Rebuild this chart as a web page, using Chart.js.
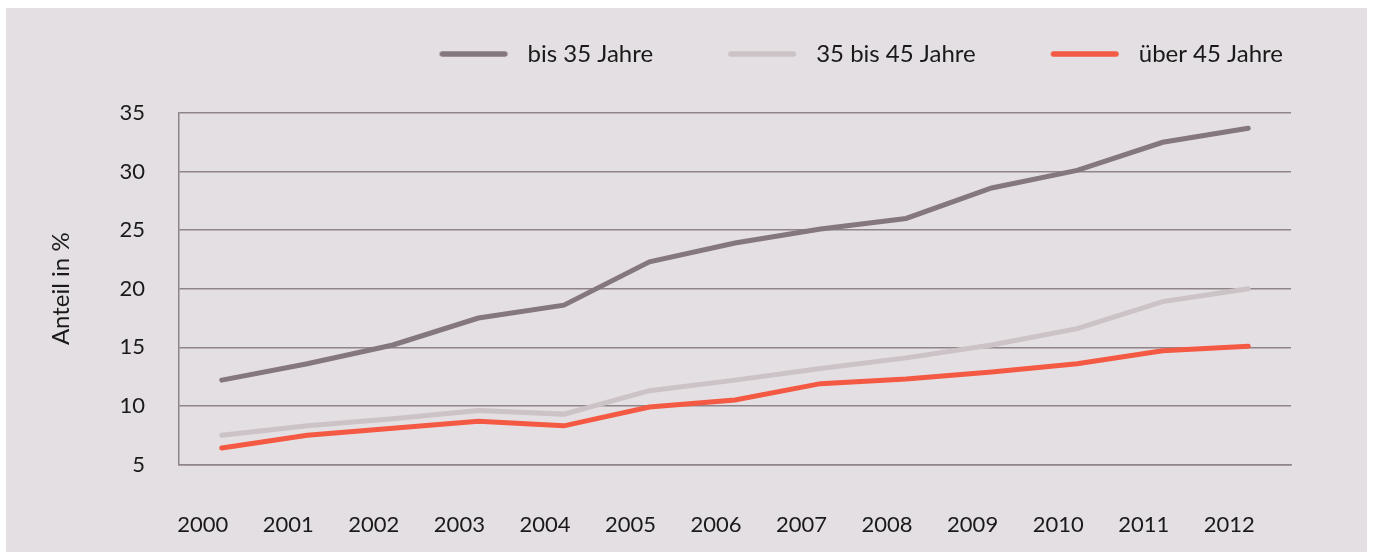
<!DOCTYPE html>
<html>
<head>
<meta charset="utf-8">
<script src="https://cdn.jsdelivr.net/npm/chart.js@4.4.1/dist/chart.umd.min.js"></script>
<style>
  html, body { margin: 0; padding: 0; background: #fff; }
  #wrap { position: absolute; left: 6px; top: 8px; width: 1361px; height: 544px; background: #e4dfe2; }
</style>
</head>
<body>
<div id="wrap"><canvas id="chart"></canvas></div>
<script>
// Anteil in % je Altersgruppe
const years = ['2000', '2001', '2002', '2003', '2004', '2005', '2006', '2007', '2008', '2009', '2010', '2011', '2012'];
const bis35 = [12.2, 13.6, 15.2, 17.5, 18.6, 22.3, 23.9, 25.1, 26.0, 28.6, 30.1, 32.5, 33.7];
const von35bis45 = [7.5, 8.3, 8.9, 9.6, 9.3, 11.3, 12.2, 13.2, 14.1, 15.2, 16.6, 18.9, 20.0];
const ueber45 = [6.4, 7.5, 8.1, 8.7, 8.3, 9.9, 10.5, 11.9, 12.3, 12.9, 13.6, 14.7, 15.1];
const seriesNames = ['bis 35 Jahre', '35 bis 45 Jahre', 'über 45 Jahre'];
const yMin = 5, yMax = 35, yStep = 5;

const colors = ['#85777f', '#cbc3c6', '#f45a43'];
const gridColor = '#8e848a';
const textColor = '#1a1a1a';
const font = { family: 'Lato', size: 22 };
const legendFont = { family: 'Lato', size: 24 };

// legend sample: blank lead-in, then a short thick line, then a gap before the text
function legendLine(color) {
  const c = document.createElement('canvas');
  c.width = 143;
  c.height = 8;
  const g = c.getContext('2d');
  g.strokeStyle = color;
  g.lineWidth = 5.5;
  g.lineCap = 'round';
  g.beginPath();
  g.moveTo(67 + 2.75, 4);
  g.lineTo(135 - 2.75, 4);
  g.stroke();
  return c;
}

const legendGap = {
  id: 'legendGap',
  beforeInit(chart) {
    const fit = chart.legend.fit;
    chart.legend.fit = function () {
      fit.call(this);
      this.height += 37;
    };
  }
};

function line(label, data, color) {
  return {
    label: label,
    data: data,
    borderColor: color,
    backgroundColor: color,
    borderWidth: 5,
    borderCapStyle: 'round',
    tension: 0,
    pointRadius: 0,
    pointHoverRadius: 0,
    pointStyle: legendLine(color)
  };
}

new Chart(document.getElementById('chart'), {
  type: 'line',
  data: {
    labels: years,
    datasets: [
      line(seriesNames[0], bis35, colors[0]),
      line(seriesNames[1], von35bis45, colors[1]),
      line(seriesNames[2], ueber45, colors[2])
    ]
  },
  options: {
    responsive: true,
    maintainAspectRatio: false,
    animation: false,
    layout: { padding: { top: 26, right: 76, bottom: 0, left: 0 } },
    plugins: {
      tooltip: { enabled: false },
      legend: {
        position: 'top',
        align: 'end',
        labels: {
          usePointStyle: true,
          pointStyleWidth: 143,
          padding: 8,
          color: textColor,
          font: legendFont
        }
      }
    },
    scales: {
      x: {
        offset: true,
        grid: { display: false, drawTicks: false },
        border: { display: true, color: gridColor, width: 1.5 },
        ticks: { color: textColor, font: font, padding: 47, labelOffset: -19, maxRotation: 0, autoSkip: false },
        afterFit(s) { s.height = 87.5; }
      },
      y: {
        min: yMin,
        max: yMax,
        ticks: { stepSize: yStep, color: textColor, font: font, padding: 34 },
        grid: { color: gridColor, lineWidth: 1.5, drawTicks: false },
        border: { display: true, color: gridColor, width: 1.5 },
        title: { display: true, text: 'Anteil in %', color: textColor, font: legendFont, padding: { top: 41, bottom: 0 } },
        afterFit(s) { s.width = 173; }
      }
    }
  },
  plugins: [legendGap]
});
</script>
</body>
</html>
